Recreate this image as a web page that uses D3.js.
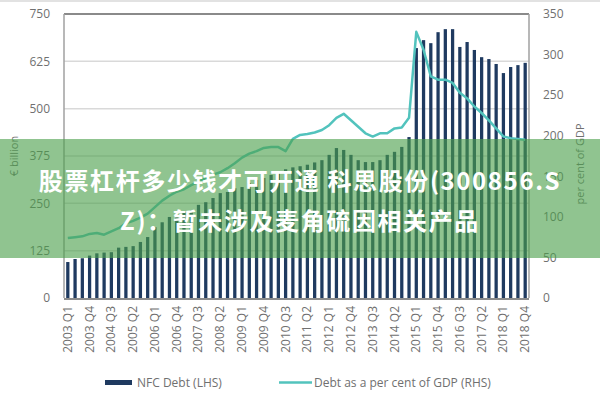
<!DOCTYPE html>
<html>
<head>
<meta charset="utf-8">
<script src="https://cdn.jsdelivr.net/npm/d3@7"></script>
<style>
  body { margin: 0; background: #fff; }
  svg { display: block; font-family: "Open Sans", sans-serif; }
</style>
</head>
<body>
<div id="chart"></div>
<script>
// quarters 2003 Q1 .. 2018 Q4
var years = d3.range(2003, 2019);
var quarters = [];
years.forEach(function(y) { ["Q1", "Q2", "Q3", "Q4"].forEach(function(q) { quarters.push(y + " " + q); }); });

var tickLabels = ["2003 Q1", "2003 Q4", "2004 Q3", "2005 Q2", "2006 Q1", "2006 Q4", "2007 Q3", "2008 Q2",
  "2009 Q1", "2009 Q4", "2010 Q3", "2011 Q2", "2012 Q1", "2012 Q4", "2013 Q3", "2014 Q2",
  "2015 Q1", "2015 Q4", "2016 Q3", "2017 Q2", "2018 Q1", "2018 Q4"];

// NFC debt, EUR billion (LHS)
var nfcDebt = [95, 103, 105, 112, 118, 120, 121, 133, 135, 137, 148, 161, 187, 200, 214, 219,
  227, 232, 246, 253, 264, 277, 280, 290, 293, 304, 312, 317, 325, 333, 340, 345,
  348, 352, 358, 364, 378, 396, 391, 378, 364, 359, 359, 364, 378, 386, 399, 425,
  660, 681, 673, 702, 710, 710, 663, 676, 655, 636, 631, 618, 594, 610, 615, 621];

// debt as per cent of GDP (RHS)
var debtGdp = [74, 75, 76, 79, 80, 78, 82, 86, 92, 95, 99, 104, 112, 120, 126, 131,
  134, 139, 143, 148, 152, 155, 160, 166, 173, 178, 181, 185, 186, 186, 181, 196,
  201, 202, 204, 207, 213, 222, 227, 219, 211, 203, 199, 203, 203, 209, 210, 222,
  328, 306, 273, 269, 269, 265, 253, 246, 236, 228, 219, 209, 199, 197, 196, 195];

var leftTicks = [0, 125, 250, 375, 500, 625, 750];
var rightTicks = [0, 50, 100, 150, 200, 250, 300, 350];

var title1 = "股票杠杆多少钱才可开通 科思股份(300856.S";
var title2 = "Z)：暂未涉及麦角硫因相关产品";

var W = 600, H = 400;
var plot = {left: 64, right: 529, top: 14, bottom: 298};

var svg = d3.select("#chart").append("svg")
    .attr("width", W)
    .attr("height", H);

svg.append("rect").attr("x", 0).attr("y", 0).attr("width", W).attr("height", 2).attr("fill", "#e2e2e2");

var x = d3.scaleBand().domain(quarters).range([plot.left, plot.right]).paddingInner(0.55).paddingOuter(0.3);
var yL = d3.scaleLinear().domain([0, 750]).range([plot.bottom, plot.top]);
var yR = d3.scaleLinear().domain([0, 350]).range([plot.bottom, plot.top]);

// gridlines
svg.append("g")
  .selectAll("line")
  .data(leftTicks.slice(1, -1))
  .join("line")
    .attr("x1", plot.left).attr("x2", plot.right)
    .attr("y1", function(d) { return yL(d); })
    .attr("y2", function(d) { return yL(d); })
    .attr("stroke", "#d9d9d9")
    .attr("stroke-width", 1.5);

// bars
svg.append("g")
  .selectAll("rect")
  .data(nfcDebt)
  .join("rect")
    .attr("x", function(d, i) { return x(quarters[i]); })
    .attr("width", x.bandwidth())
    .attr("y", function(d) { return yL(d); })
    .attr("height", function(d) { return yL(0) - yL(d); })
    .attr("fill", "#1f3a60");

// line
var line = d3.line()
    .x(function(d, i) { return x(quarters[i]) + x.bandwidth() / 2; })
    .y(function(d) { return yR(d); });

svg.append("path")
    .datum(debtGdp)
    .attr("d", line)
    .attr("fill", "none")
    .attr("stroke", "#52c3bd")
    .attr("stroke-width", 2.5)
    .attr("stroke-linejoin", "round");

// frame
svg.append("line").attr("x1", plot.left).attr("x2", plot.right).attr("y1", plot.top).attr("y2", plot.top)
    .attr("stroke", "#8a8a8a").attr("stroke-width", 2);
svg.append("line").attr("x1", plot.right).attr("x2", plot.right).attr("y1", plot.top).attr("y2", plot.bottom)
    .attr("stroke", "#a0a0a0").attr("stroke-width", 1.5);
svg.append("line").attr("x1", plot.left).attr("x2", plot.left).attr("y1", plot.top).attr("y2", plot.bottom)
    .attr("stroke", "#a0a0a0").attr("stroke-width", 1.5);
svg.append("line").attr("x1", plot.left).attr("x2", plot.right).attr("y1", plot.bottom + 1).attr("y2", plot.bottom + 1)
    .attr("stroke", "#666").attr("stroke-width", 1.5);

// left axis
var leftAxis = svg.append("g")
    .attr("transform", "translate(" + (plot.left - 14) + ",0)")
    .call(d3.axisLeft(yL).tickValues(leftTicks).tickSize(0).tickPadding(0));
leftAxis.select(".domain").remove();
leftAxis.selectAll("text").attr("fill", "#707070").style("font-size", "12px").style("font-family", "Open Sans");

// right axis
var rightAxis = svg.append("g")
    .attr("transform", "translate(" + (plot.right + 14) + ",0)")
    .call(d3.axisRight(yR).tickValues(rightTicks).tickSize(0).tickPadding(0));
rightAxis.select(".domain").remove();
rightAxis.selectAll("text").attr("fill", "#707070").style("font-size", "12px").style("font-family", "Open Sans");

// x axis labels, rotated
svg.append("g")
  .selectAll("text")
  .data(tickLabels)
  .join("text")
    .attr("transform", function(d) {
      return "translate(" + (x(d) + x.bandwidth() / 2 + 4) + "," + (plot.bottom + 8) + ") rotate(-90)";
    })
    .attr("text-anchor", "end")
    .attr("fill", "#707070")
    .style("font-size", "12px")
    .text(function(d) { return d; });

// axis titles
svg.append("text")
    .attr("transform", "translate(18,156) rotate(-90)")
    .attr("text-anchor", "middle")
    .attr("fill", "#707070")
    .style("font-size", "11px")
    .text("€ billion");

svg.append("text")
    .attr("transform", "translate(584,164) rotate(-90)")
    .attr("text-anchor", "middle")
    .attr("fill", "#707070")
    .style("font-size", "11px")
    .text("per cent of GDP");

// legend
var legend = svg.append("g");
legend.append("rect").attr("x", 105).attr("y", 380).attr("width", 27).attr("height", 5).attr("fill", "#1f3a60");
legend.append("text").attr("x", 137).attr("y", 387).attr("fill", "#707070").style("font-size", "12px").text("NFC Debt (LHS)");
legend.append("line").attr("x1", 279).attr("x2", 312).attr("y1", 382.5).attr("y2", 382.5)
    .attr("stroke", "#52c3bd").attr("stroke-width", 2.5);
legend.append("text").attr("x", 314).attr("y", 387).attr("fill", "#707070").style("font-size", "12px").text("Debt as a per cent of GDP (RHS)");

// overlay banner
svg.append("rect")
    .attr("x", 0).attr("y", 139).attr("width", W).attr("height", 119)
    .attr("fill", "rgb(76,160,76)")
    .attr("fill-opacity", 0.62);

var banner = svg.append("g")
    .attr("fill", "#fff")
    .attr("text-anchor", "middle")
    .style("font-family", "'Noto Sans CJK SC', sans-serif")
    .style("font-weight", "bold")
    .style("font-size", "24px")
    .style("letter-spacing", "1.6px");
banner.append("text").attr("x", 300).attr("y", 190).text(title1);
banner.append("text").attr("x", 300).attr("y", 230).text(title2);
</script>
</body>
</html>
